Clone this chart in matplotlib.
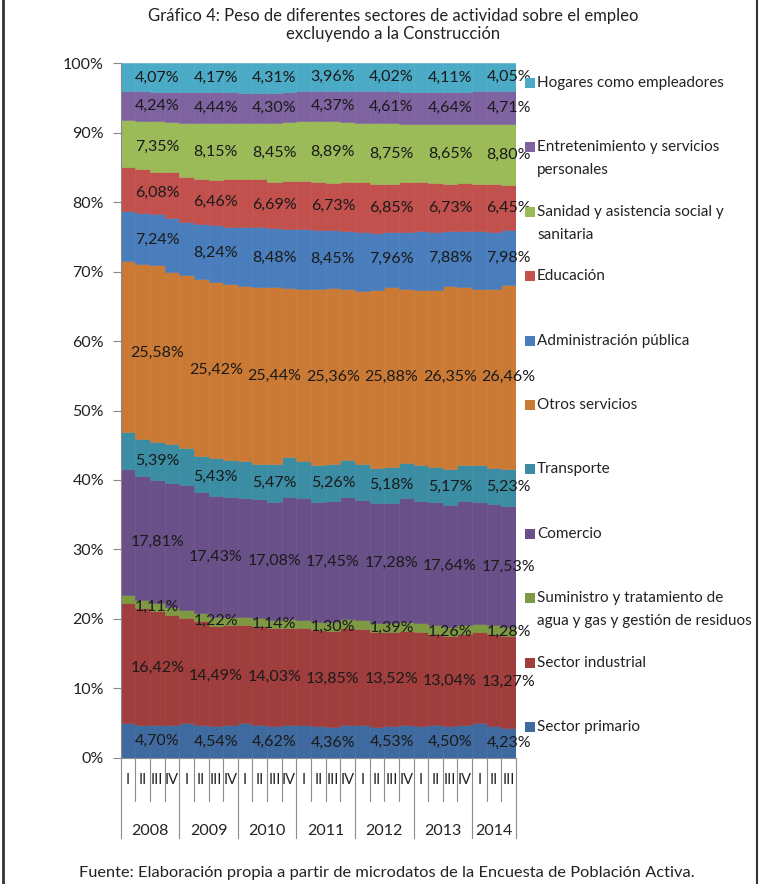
import matplotlib
matplotlib.use("Agg")
import matplotlib.pyplot as plt
import numpy as np
from matplotlib.lines import Line2D
from matplotlib.patches import Rectangle

plt.rcParams['font.family'] = ['Lato', 'DejaVu Sans']

# trimestres 2008 I - 2014 III
years = ["2008", "2009", "2010", "2011", "2012", "2013", "2014"]
quarters = ["I", "II", "III", "IV"] * 6 + ["I", "II", "III"]

names = ["Sector primario", "Sector industrial",
         "Suministro y tratamiento de\nagua y gas y gestión de residuos",
         "Comercio", "Transporte", "Otros servicios", "Administración pública",
         "Educación", "Sanidad y asistencia social y\nsanitaria",
         "Entretenimiento y servicios\npersonales", "Hogares como empleadores"]

primario = [4.96, 4.68, 4.70, 4.68, 4.96, 4.73, 4.54, 4.68, 4.96, 4.73, 4.62, 4.77, 4.73, 4.53,
            4.36, 4.77, 4.68, 4.44, 4.53, 4.77, 4.53, 4.68, 4.50, 4.77, 5.06, 4.58, 4.23]
industrial = [17.37, 16.91, 16.42, 15.82, 15.16, 14.96, 14.49, 14.43, 14.09, 14.19, 14.03, 13.96, 13.90, 13.78,
              13.85, 13.88, 13.80, 13.63, 13.52, 13.49, 13.52, 13.15, 13.04, 13.09, 12.97, 13.23, 13.27]
suministro = [1.10, 1.12, 1.11, 1.15, 1.18, 1.20, 1.22, 1.20, 1.16, 1.15, 1.14, 1.20, 1.25, 1.28,
              1.30, 1.32, 1.35, 1.38, 1.39, 1.33, 1.30, 1.28, 1.26, 1.25, 1.27, 1.30, 1.28]
comercio = [18.10, 17.86, 17.81, 17.86, 17.97, 17.42, 17.43, 17.28, 17.00, 17.14, 17.08, 17.66, 17.47, 17.28,
            17.45, 17.62, 17.28, 17.18, 17.28, 17.76, 17.67, 17.67, 17.64, 17.86, 17.57, 17.37, 17.53]
transporte = [5.33, 5.33, 5.39, 5.62, 5.29, 5.19, 5.43, 5.29, 5.29, 5.09, 5.47, 5.67, 5.29, 5.20,
              5.26, 5.29, 5.19, 5.14, 5.18, 5.05, 5.14, 5.14, 5.17, 5.19, 5.29, 5.29, 5.23]
otros = [24.67, 25.20, 25.58, 24.77, 24.90, 25.44, 25.42, 25.29, 25.14, 25.44, 25.44, 24.48, 24.76, 25.33,
         25.36, 24.71, 24.82, 25.59, 25.88, 25.10, 25.24, 25.48, 26.35, 25.63, 25.24, 25.73, 26.46]
admin = [7.18, 7.28, 7.24, 7.80, 7.72, 7.85, 8.24, 8.32, 8.50, 8.55, 8.48, 8.45, 8.60, 8.60,
         8.45, 8.30, 8.50, 8.30, 7.96, 8.20, 8.40, 8.30, 7.88, 8.05, 8.35, 8.25, 7.98]
educacion = [6.40, 6.35, 6.08, 6.60, 6.40, 6.55, 6.46, 6.85, 6.90, 6.95, 6.69, 6.90, 6.95, 6.90,
             6.73, 7.00, 7.20, 7.05, 6.85, 7.10, 7.10, 7.05, 6.73, 6.95, 6.85, 6.80, 6.45]
sanidad = [6.69, 7.00, 7.35, 7.30, 7.87, 8.09, 8.15, 8.11, 8.01, 8.06, 8.45, 8.45, 8.60, 8.77,
           8.89, 8.75, 8.50, 8.75, 8.75, 8.47, 8.35, 8.50, 8.65, 8.42, 8.58, 8.75, 8.80]
entretenimiento = [4.20, 4.22, 4.24, 4.30, 4.40, 4.45, 4.44, 4.35, 4.30, 4.32, 4.30, 4.35, 4.35, 4.30,
                   4.37, 4.45, 4.55, 4.60, 4.61, 4.58, 4.60, 4.65, 4.64, 4.70, 4.72, 4.68, 4.71]
hogares = [4.00, 4.05, 4.07, 4.10, 4.15, 4.12, 4.17, 4.20, 4.25, 4.28, 4.31, 4.15, 4.00, 3.98,
           3.96, 3.95, 4.05, 4.00, 4.02, 4.10, 4.15, 4.10, 4.11, 4.08, 4.05, 4.02, 4.05]

colors = ["#3F6A9F", "#9F3E3C", "#7D9A43", "#6A5088", "#3A8DA3", "#CA7A35",
          "#4A7DBB", "#C2504D", "#9BBA58", "#7F63A1", "#4BABC6"]

series = np.array([primario, industrial, suministro, comercio, transporte, otros,
                   admin, educacion, sanidad, entretenimiento, hogares])
# 100% apilado
pct = series / series.sum(axis=0) * 100
n = series.shape[1]
x = np.arange(n)

fig = plt.figure(figsize=(7.62, 8.84), dpi=100)
ax = fig.add_axes([120.7/762, 1-757.7/884, (516-120.7)/762, (757.7-63.3)/884])

bottom = np.zeros(n)
for i in range(len(series)):
    ax.bar(x, pct[i], bottom=bottom, width=1.0, color=colors[i], edgecolor=colors[i], linewidth=0.4)
    # etiqueta en el tercer trimestre de cada año
    for k in range(2, n, 4):
        txt = f"{series[i][k]:.2f}%".replace(".", ",")
        ax.text(k, bottom[k] + pct[i][k]/2, txt, ha="center", va="center", fontsize=11.5, color="#1a1a1a")
    bottom += pct[i]

ax.set_xlim(-0.5, n - 0.5)
ax.set_ylim(0, 100)
ax.set_yticks(np.arange(0, 101, 10))
ax.set_yticklabels([f"{v}%" for v in range(0, 101, 10)], fontsize=11.5, color="#222222")
ax.tick_params(axis="y", length=6, color="#888888", pad=6)
ax.set_xticks([])
for s in ["top", "right", "bottom"]:
    ax.spines[s].set_visible(False)
ax.spines["left"].set_color("#888888")

# eje x con trimestres y años
tr = ax.get_xaxis_transform()
px = 1 / (757.7 - 63.3)
for k in range(n + 1):
    xe = k - 0.5
    y_end = -80 * px if (k % 4 == 0 or k == n) else -43 * px
    ax.add_line(Line2D([xe, xe], [0, y_end], transform=tr, color="#8c8c8c", lw=0.8, clip_on=False))
ax.add_line(Line2D([-0.5, n - 0.5], [0, 0], transform=tr, color="#8c8c8c", lw=0.8, clip_on=False))
for k in range(n):
    ax.text(k, -22 * px, quarters[k], transform=tr, ha="center", va="center", fontsize=10.5, color="#222222")
for j, yr in enumerate(years):
    k0 = j * 4
    k1 = min(k0 + 4, n)
    ax.text((k0 + k1 - 1) / 2, -73 * px, yr, transform=tr, ha="center", va="center", fontsize=11.5, color="#222222")

# leyenda a la derecha
for i in range(len(names)):
    yc = 727 - i * 64.4
    fig.patches.append(Rectangle((525/762, 1-(yc+5)/884), 10/762, 10/884, transform=fig.transFigure,
                                 facecolor=colors[i], edgecolor="none"))
    for m, line in enumerate(names[i].split("\n")):
        fig.text(537/762, 1-(yc + m*23)/884, line, ha="left", va="center", fontsize=11, color="#222222")

fig.text(0.516, 1-8/884, "Gráfico 4: Peso de diferentes sectores de actividad sobre el empleo\nexcluyendo a la Construcción",
         ha="center", va="top", fontsize=12, linespacing=1.15, color="#222222")
fig.text(387/762, 1-873/884, "Fuente: Elaboración propia a partir de microdatos de la Encuesta de Población Activa.",
         ha="center", va="center", fontsize=11.8, color="#222222")

# marco lateral
fig.add_artist(Line2D([3/762, 3/762], [0, 1], transform=fig.transFigure, color="#333333", lw=2))
fig.add_artist(Line2D([757/762, 757/762], [0, 1], transform=fig.transFigure, color="#333333", lw=1.5))

fig.savefig("out.png", dpi=100)
